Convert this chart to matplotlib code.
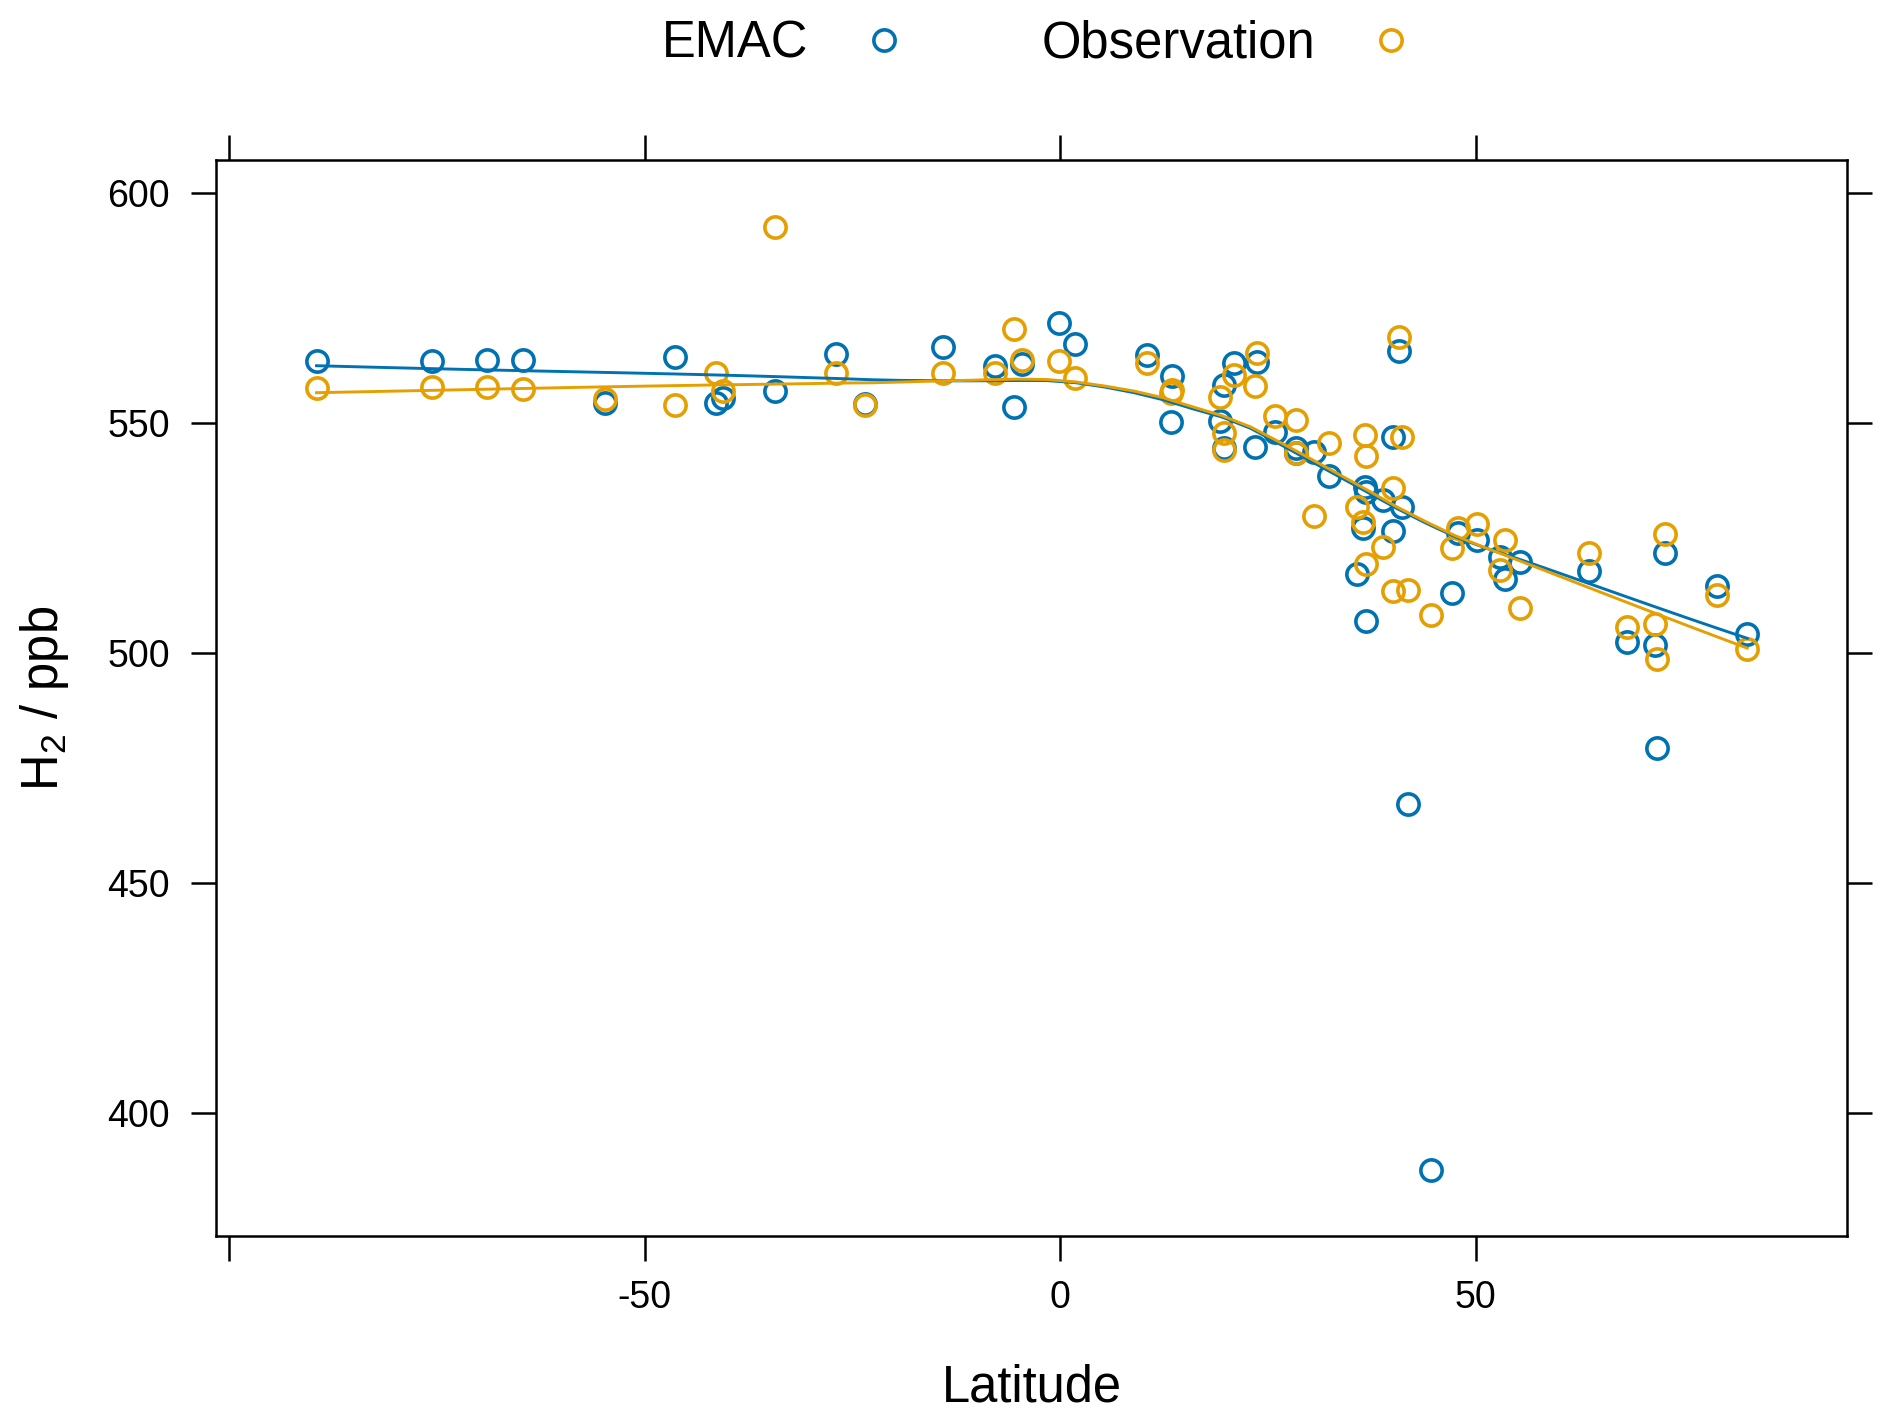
import matplotlib
matplotlib.use('Agg')
import matplotlib.pyplot as plt
from matplotlib.lines import Line2D
import numpy as np

plt.rcParams['font.family'] = ['Liberation Sans', 'DejaVu Sans']
plt.rcParams['mathtext.fontset'] = 'custom'
plt.rcParams['mathtext.rm'] = 'Liberation Sans'
plt.rcParams['axes.unicode_minus'] = False

# station latitude and H2 mixing ratios (ppb)
latitude = [-89.5, -75.6, -69.0, -64.7, -54.8, -46.4, -41.4, -40.6, -34.3, -27.0,
            -23.5, -14.1, -7.9, -5.6, -4.6, -0.2, 1.8,
            10.5, 13.5, 13.3, 19.2, 19.7, 19.7, 20.9, 23.7, 23.4, 25.9,
            28.4, 28.4, 30.5, 32.4, 35.7, 36.7, 36.8, 36.4, 36.8, 38.9,
            40.1, 40.1, 40.8, 41.2, 41.9, 44.6, 47.1, 47.9, 50.2, 52.9,
            53.5, 55.4, 63.6, 68.2, 71.6, 71.8, 72.8, 79.1, 82.7]
emac = [563.5, 563.5, 563.8, 563.8, 554.3, 564.3, 554.4, 555.4, 557.0, 565.1,
        554.1, 566.6, 562.5, 553.5, 562.8, 571.8, 567.1,
        564.8, 560.2, 550.2, 550.5, 558.3, 544.5, 563.1, 563.3, 544.8, 548.0,
        544.7, 543.5, 543.8, 538.5, 517.2, 536.2, 535.1, 527.3, 507.0, 533.3,
        547.0, 526.5, 565.7, 531.8, 467.1, 387.7, 513.1, 526.2, 524.6, 520.9,
        516.2, 519.9, 517.9, 502.5, 501.7, 479.3, 521.8, 514.6, 504.1]
observation = [557.7, 557.8, 557.9, 557.5, 555.2, 553.9, 560.8, 557.0, 592.7, 560.8,
               553.9, 561.0, 561.0, 570.5, 563.7, 563.5, 559.9,
               563.0, 557.3, 556.6, 555.6, 547.8, 544.1, 560.4, 565.3, 558.0, 551.6,
               550.7, 543.4, 529.8, 545.7, 531.8, 547.4, 542.9, 528.6, 519.3, 523.0,
               535.8, 513.5, 568.8, 547.0, 513.8, 508.3, 522.8, 527.2, 528.0, 518.0,
               524.6, 509.9, 521.8, 505.7, 506.4, 498.8, 526.0, 512.6, 500.8]

BLUE = '#0072B2'
ORANGE = '#E69F00'


def loess(x, y, span=2/3, iterations=4, n_eval=50):
    # local linear fit with tricube weights and bisquare robustness steps
    x = np.asarray(x, float)
    y = np.asarray(y, float)
    n = len(x)
    q = int(np.floor(n * span))
    rob = np.ones(n)

    def fit_at(x0, rob):
        d = np.abs(x - x0)
        h = np.sort(d)[q - 1]
        w = np.clip(1 - (d / h) ** 3, 0, None) ** 3 * rob
        A = np.vstack([np.ones(n), x - x0]).T
        sw = np.sqrt(w)
        beta = np.linalg.lstsq(A * sw[:, None], y * sw, rcond=None)[0]
        return beta[0]

    for it in range(iterations):
        fitted = np.array([fit_at(xi, rob) for xi in x])
        if it == iterations - 1:
            break
        r = y - fitted
        s = np.median(np.abs(r))
        rob = np.clip(1 - (r / (6 * s)) ** 2, 0, None) ** 2

    xs = np.linspace(x.min(), x.max(), n_eval)
    return xs, np.array([fit_at(x0, rob) for x0 in xs])


fig = plt.figure(figsize=(18.92, 14.2), dpi=100)
ax = fig.add_axes([216/1892, 1 - 1236/1420, 1631/1892, 1076/1420])

ms = 15.3
mew = 2.6
ax.plot(latitude, emac, 'o', ms=ms, mfc='none', mec=BLUE, mew=mew)
ax.plot(latitude, observation, 'o', ms=ms, mfc='none', mec=ORANGE, mew=mew)

xs, ys = loess(latitude, emac)
ax.plot(xs, ys, color=BLUE, lw=2.1)
xs, ys = loess(latitude, observation)
ax.plot(xs, ys, color=ORANGE, lw=2.1)

ax.set_xlim(-101.6, 94.7)
ax.set_ylim(373.3, 607.2)

ax.set_xticks([-100, -50, 0, 50])
ax.set_xticklabels(['', '-50', '0', '50'])
ax.set_yticks([400, 450, 500, 550, 600])
ax.tick_params(axis='both', direction='out', length=18, width=1.8,
               labelsize=27, top=True, right=True)
ax.tick_params(axis='x', pad=14)
ax.tick_params(axis='y', pad=15)
for sp in ax.spines.values():
    sp.set_linewidth(1.8)

ax.set_xlabel('Latitude', fontsize=36.5)
ax.xaxis.label.set_verticalalignment('center')
ax.xaxis.set_label_coords(0.5, -0.1412)
ax.set_ylabel(r'H$_\mathrm{2}$ / ppb', fontsize=36.5)
ax.yaxis.label.set_verticalalignment('center')
ax.yaxis.set_label_coords(-0.105, 0.5)

handles = [Line2D([], [], ls='none', marker='o', ms=ms, mfc='none', mec=BLUE, mew=mew),
           Line2D([], [], ls='none', marker='o', ms=ms, mfc='none', mec=ORANGE, mew=mew)]
fig.legend(handles, ['EMAC', 'Observation'], loc='center',
           bbox_to_anchor=(1052/1892, 1 - 44/1420), ncol=2, frameon=False,
           markerfirst=False, fontsize=36.5, handlelength=2.0,
           handletextpad=0.5, columnspacing=2.1)

fig.savefig('out.png', dpi=100)
